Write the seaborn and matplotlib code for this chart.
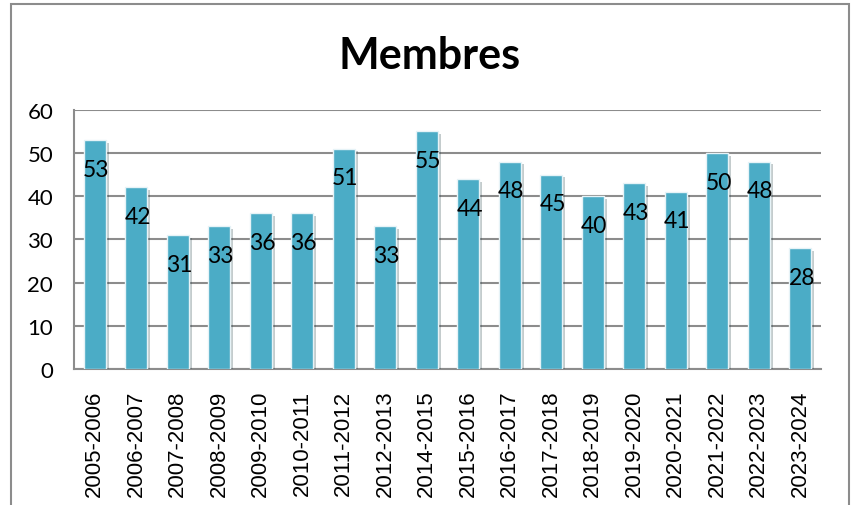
import matplotlib as mpl
import matplotlib.pyplot as plt
import matplotlib.patheffects as pe
from matplotlib.patches import Rectangle
import seaborn as sns

seasons = [
    "2005-2006", "2006-2007", "2007-2008", "2008-2009", "2009-2010", "2010-2011",
    "2011-2012", "2012-2013", "2014-2015", "2015-2016", "2016-2017", "2017-2018",
    "2018-2019", "2019-2020", "2020-2021", "2021-2022", "2022-2023", "2023-2024",
]
members = [53, 42, 31, 33, 36, 36, 51, 33, 55, 44, 48, 45, 40, 43, 41, 50, 48, 28]
y_ticks = [0, 10, 20, 30, 40, 50, 60]

BAR = "#4BACC6"
GRID = "#8c8c8c"

sns.set_theme(style="white")
mpl.rcParams["font.family"] = ["Lato", "DejaVu Sans"]

fig = plt.figure(figsize=(8.51, 5.06), dpi=100)
ax = fig.add_axes([74 / 851, 1 - 370 / 506, (821 - 74) / 851, (370 - 110.7) / 506])

sns.barplot(x=seasons, y=members, color=BAR, width=0.53, saturation=1,
            edgecolor="#e6f3f7", linewidth=1, ax=ax, zorder=3)
for p in ax.patches:
    p.set_path_effects([pe.SimplePatchShadow(offset=(2, -2), alpha=0.25), pe.Normal()])

ax.set_ylim(0, 60)
ax.set_xlim(-0.5, len(seasons) - 0.5)
ax.set_yticks(y_ticks)
ax.yaxis.grid(True, color=GRID, linewidth=1.5, zorder=0)
ax.set_axisbelow(True)
for s in ["top", "right"]:
    ax.spines[s].set_visible(False)
for s in ["left", "bottom"]:
    ax.spines[s].set_color(GRID)
    ax.spines[s].set_linewidth(1.5)
ax.tick_params(axis="both", length=0)
ax.tick_params(axis="y", pad=15, labelsize=16, labelcolor="black")
ax.tick_params(axis="x", pad=15, labelcolor="black")
for lab in ax.get_xticklabels():
    lab.set_rotation(90)
    lab.set_family(["Liberation Sans", "DejaVu Sans"])
    lab.set_fontsize(16)
ax.set_xlabel("")
ax.set_ylabel("")

for i, v in enumerate(members):
    ax.annotate(str(v), (i, v), xytext=(1, -21), textcoords="offset points",
                ha="center", va="center", fontsize=16.5, color="black", zorder=5)

fig.text(430 / 851, 1 - 56 / 506, "Membres", ha="center", va="center",
         fontsize=31, fontweight="bold", color="black")

fig.patches.append(Rectangle((11 / 851, -0.05), (849 - 11) / 851, 0.05 + 1 - 5 / 506,
                             transform=fig.transFigure, fill=False,
                             edgecolor=GRID, linewidth=1.5))

fig.savefig("out.png", dpi=100)
